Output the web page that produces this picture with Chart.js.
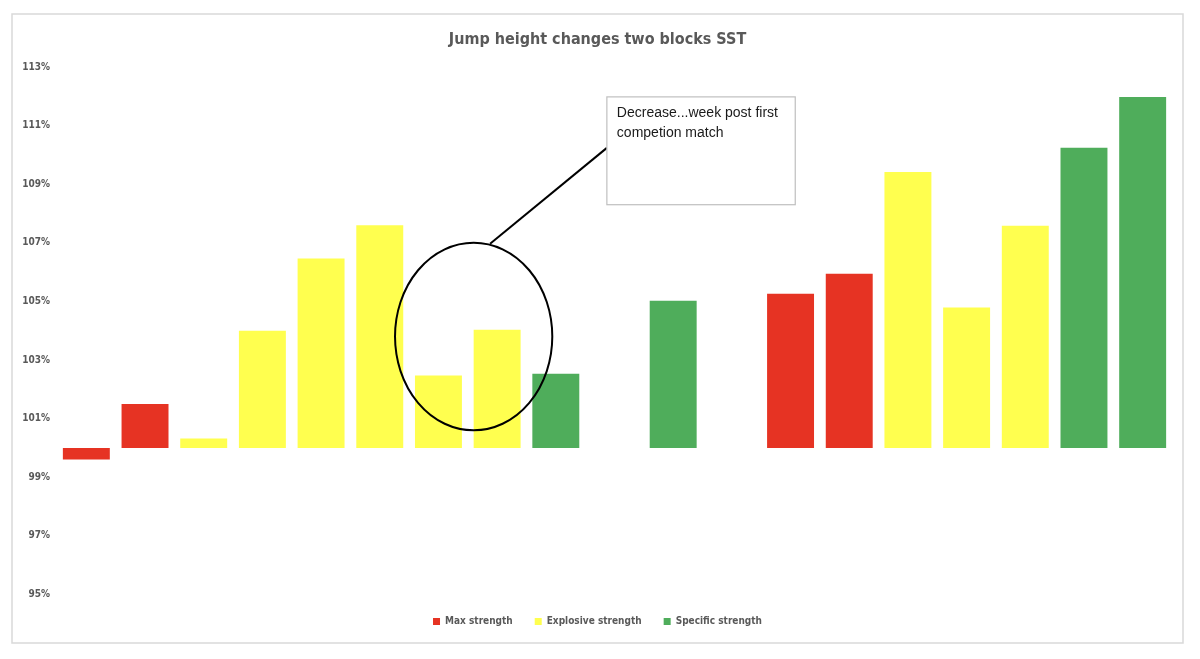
<!DOCTYPE html>
<html>
<head>
<meta charset="utf-8">
<script src="https://cdn.jsdelivr.net/npm/chart.js@4"></script>
<style>
  html, body { margin: 0; padding: 0; background: #fff; }
  #wrap { width: 1200px; height: 659px; }
</style>
</head>
<body>
<div id="wrap"><canvas id="chart"></canvas></div>
<script>
// sessions in order, values are jump height relative to baseline (100%)
const sessions = ['1', '2', '3', '4', '5', '6', '7', '8', '9', '10', '11', '12', '13', '14', '15', '16', '17', '18', '19'];
const maxStrength =      [99.6, 101.5, null, null, null, null, null, null, null, null, null, null, 105.26, 105.94, null, null, null, null, null];
const explosiveStrength = [null, null, 100.32, 104.0, 106.46, 107.6, 102.47, 104.03, null, null, null, null, null, null, 109.42, 104.79, 107.58, null, null];
const specificStrength = [null, null, null, null, null, null, null, null, 102.53, null, 105.02, null, null, null, null, null, null, 110.24, 111.98];
const yTicks = [95, 97, 99, 101, 103, 105, 107, 109, 111, 113];
const baseline = 100;

const font = "'DejaVu Sans Condensed', 'DejaVu Sans', sans-serif";
const grey = '#595959';

// bars float from the 100% line
const floating = arr => arr.map(v => v === null ? null : [baseline, v]);

// outer frame + callout
const decor = {
  id: 'decor',
  beforeDraw(chart) {
    const c = chart.ctx;
    c.save();
    c.fillStyle = '#fff';
    c.fillRect(0, 0, chart.width, chart.height);
    c.strokeStyle = '#d9d9d9';
    c.lineWidth = 1.5;
    c.strokeRect(12, 14, 1171, 629);
    c.restore();
  },
  afterDatasetsDraw(chart) {
    const x = chart.scales.x, y = chart.scales.y, c = chart.ctx;
    const pitch = x.getPixelForValue(1) - x.getPixelForValue(0);
    const px = i => x.getPixelForValue(0) + i * pitch;
    c.save();
    // ellipse around the two dipping sessions
    c.strokeStyle = '#000';
    c.lineWidth = 2;
    c.beginPath();
    c.ellipse(px(6.6), y.getPixelForValue(103.8), 1.34 * pitch, y.getPixelForValue(100.6) - y.getPixelForValue(103.8), 0, 0, Math.PI * 2);
    c.stroke();
    // leader line
    c.beginPath();
    c.moveTo(px(6.88), y.getPixelForValue(106.97));
    c.lineTo(px(8.87), y.getPixelForValue(110.24));
    c.stroke();
    // text box
    const bx = px(8.87), by = y.getPixelForValue(111.98);
    const bw = px(12.08) - bx, bh = y.getPixelForValue(108.3) - by;
    c.fillStyle = '#fff';
    c.fillRect(bx, by, bw, bh);
    c.strokeStyle = '#bfbfbf';
    c.lineWidth = 1.2;
    c.strokeRect(bx, by, bw, bh);
    c.fillStyle = '#1a1a1a';
    c.font = "14px 'Liberation Sans', sans-serif";
    c.textBaseline = 'middle';
    c.fillText('Decrease...week post first', bx + 10, by + 16);
    c.fillText('competion match', bx + 10, by + 36);
    c.restore();
  }
};

new Chart(document.getElementById('chart'), {
  type: 'bar',
  data: {
    labels: sessions,
    datasets: [
      { label: 'Max strength', data: floating(maxStrength), backgroundColor: '#E63323' },
      { label: 'Explosive strength', data: floating(explosiveStrength), backgroundColor: '#FFFF4F' },
      { label: 'Specific strength', data: floating(specificStrength), backgroundColor: '#4FAD5B' }
    ]
  },
  options: {
    responsive: true,
    maintainAspectRatio: false,
    animation: false,
    skipNull: true,
    barPercentage: 0.8,
    categoryPercentage: 1,
    layout: { padding: { left: 23, right: 28, top: 0, bottom: 22.6 } },
    plugins: {
      title: {
        display: true,
        text: 'Jump height changes two blocks SST',
        color: grey,
        font: { family: font, size: 16, weight: 'bold' },
        padding: { top: 30, bottom: 17.8 }
      },
      legend: {
        position: 'bottom',
        labels: {
          color: grey,
          font: { family: font, size: 10, weight: 'bold' },
          boxWidth: 7,
          boxHeight: 7,
          padding: 22
        }
      },
      tooltip: { enabled: false }
    },
    scales: {
      x: { display: false },
      y: {
        min: 95,
        max: 113,
        afterBuildTicks: axis => { axis.ticks = yTicks.map(v => ({ value: v })); },
        afterFit: axis => { axis.width = 34; },
        grid: { display: false, drawTicks: false },
        border: { display: false },
        ticks: {
          color: grey,
          padding: 7,
          font: { family: font, size: 10, weight: 'bold' },
          callback: v => v + '%'
        }
      }
    }
  },
  plugins: [decor]
});
</script>
</body>
</html>
